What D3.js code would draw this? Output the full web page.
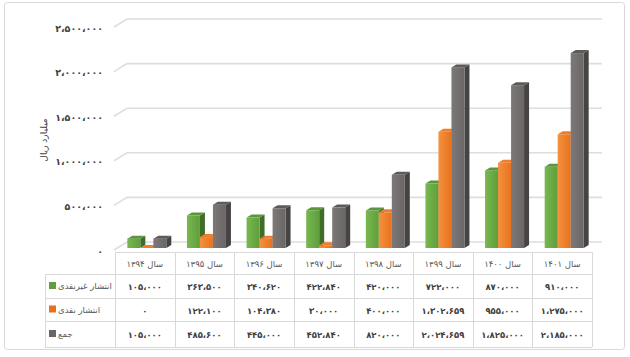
<!DOCTYPE html>
<html><head><meta charset="utf-8">
<script src="https://cdn.jsdelivr.net/npm/d3@7"></script>
<style>body{margin:0;background:#fff}svg{display:block}text{font-family:"DejaVu Sans",sans-serif}</style>
</head><body><svg id="c" width="630" height="357"></svg>
<script>
const categories = ["سال ۱۳۹۴","سال ۱۳۹۵","سال ۱۳۹۶","سال ۱۳۹۷","سال ۱۳۹۸","سال ۱۳۹۹","سال ۱۴۰۰","سال ۱۴۰۱"];
const nonCash = [105000, 363500, 340620, 422840, 420000, 722000, 870000, 910000];
const cash = [0, 122100, 104380, 30000, 400000, 1302659, 955000, 1275000];
const total = [105000, 485600, 445000, 452840, 820000, 2024659, 1825000, 2185000];
const seriesNames = ["انتشار غیرنقدی", "انتشار نقدی", "جمع"];
const yTicks = [0, 500000, 1000000, 1500000, 2000000, 2500000];
const yTitle = "میلیارد ریال";

const series = [nonCash, cash, total];
const colors = [
  {a:"#78b84f", b:"#5f9e3b", side:"#3f6d27", top:"#5a963a"},
  {a:"#f4923f", b:"#e8711d", side:"#b5531a", top:"#ef7e2c"},
  {a:"#7d7979", b:"#6a6666", side:"#464343", top:"#5e5a5a"}
];
const fa = s => String(s).replace(/\d/g, d => "۰۱۲۳۴۵۶۷۸۹"[d]);
const fmt = v => fa(d3.format(",")(v)).replace(/,/g, "،");

const svg = d3.select("#c");
const defs = svg.append("defs");
colors.forEach((c,i)=>{
  const g = defs.append("linearGradient").attr("id","g"+i).attr("x1","0").attr("x2","1").attr("y1","0").attr("y2","0");
  g.append("stop").attr("offset","0").attr("stop-color",c.a);
  g.append("stop").attr("offset","1").attr("stop-color",c.b);
});

svg.append("rect").attr("x",4.5).attr("y",2.5).attr("width",620).attr("height",347).attr("rx",3)
  .attr("fill","#fff").attr("stroke","#d9d9d9");

const x = d3.scaleBand().domain(categories).range([115, 592]);
const y = d3.scaleLinear().domain([0, 2500000]).range([248, 25]);
const wx = 13, wy = -8, bw = 13, dx = 5, dy = -3;

// gridlines
yTicks.forEach(v=>{
  const yf = y(v);
  svg.append("path").attr("d", `M114,${yf+2}L${114+wx},${yf+2+wy}L602,${yf+2+wy}`)
    .attr("fill","none").attr("stroke","#dedede").attr("stroke-width",1.6);
  svg.append("text").attr("x",103).attr("y",yf+3).attr("text-anchor","end").attr("dominant-baseline","central")
    .attr("font-size",9.5).attr("font-weight","bold").attr("fill","#404040").attr("letter-spacing",0.6).text(fmt(v));
});

svg.append("text").attr("transform","translate(44,140) rotate(-90)").attr("text-anchor","middle")
  .attr("dominant-baseline","central").attr("font-size",9).attr("fill","#404040").text(yTitle);

// bars
categories.forEach((c,ci)=>{
  const cx = x(c) + x.bandwidth()/2 + 2;
  series.forEach((s,si)=>{
    const x0 = cx - 1.5*bw + si*bw, x1 = x0 + bw;
    const yt = y(s[ci]), yb = y(0);
    const col = colors[si];
    svg.append("path").attr("d",`M${x1},${yt}L${x1+dx},${yt+dy}L${x1+dx},${yb+dy}L${x1},${yb}Z`).attr("fill",col.side);
    svg.append("rect").attr("x",x0).attr("y",yt).attr("width",bw).attr("height",yb-yt).attr("fill",`url(#g${si})`);
    svg.append("path").attr("d",`M${x0},${yt}L${x1},${yt}L${x1+dx},${yt+dy}L${x0+dx},${yt+dy}Z`).attr("fill",col.top);
  });
});

// data table
const rowY = [252, 274, 298, 321, 347];
const tl = "#d9d9d9";
const g = svg.append("g").attr("stroke",tl).attr("stroke-width",1).attr("fill","none");
const xs = categories.map(c=>x(c)).concat([x.range()[1]]);
g.append("line").attr("x1",115).attr("x2",592).attr("y1",rowY[0]+0.5).attr("y2",rowY[0]+0.5);
for (let r=1;r<rowY.length;r++) g.append("line").attr("x1",45).attr("x2",592).attr("y1",rowY[r]+0.5).attr("y2",rowY[r]+0.5);
xs.forEach(xv=>g.append("line").attr("x1",Math.round(xv)+0.5).attr("x2",Math.round(xv)+0.5).attr("y1",rowY[0]).attr("y2",rowY[4]));
g.append("line").attr("x1",45.5).attr("x2",45.5).attr("y1",rowY[1]).attr("y2",rowY[4]);

categories.forEach(c=>{
  svg.append("text").attr("x",x(c)+x.bandwidth()/2).attr("y",(rowY[0]+rowY[1])/2+1).attr("text-anchor","middle")
    .attr("dominant-baseline","central").attr("font-size",8.5).attr("fill","#595959").attr("direction","rtl").text(c);
});
series.forEach((s,si)=>{
  const yc = (rowY[si+1]+rowY[si+2])/2 + 1;
  s.forEach((v,ci)=>{
    svg.append("text").attr("x",x(categories[ci])+x.bandwidth()/2).attr("y",yc).attr("text-anchor","middle")
      .attr("dominant-baseline","central").attr("font-size",8.5).attr("font-weight","bold").attr("fill","#404040").text(fmt(v));
  });
  svg.append("rect").attr("x",49).attr("y",yc-5).attr("width",7).attr("height",7).attr("fill",colors[si].b);
  svg.append("text").attr("x",58).attr("y",yc-1).attr("text-anchor","start").attr("dominant-baseline","central")
    .attr("font-size",8.5).attr("fill","#595959").attr("direction","ltr").text(seriesNames[si]);
});
</script></body></html>
